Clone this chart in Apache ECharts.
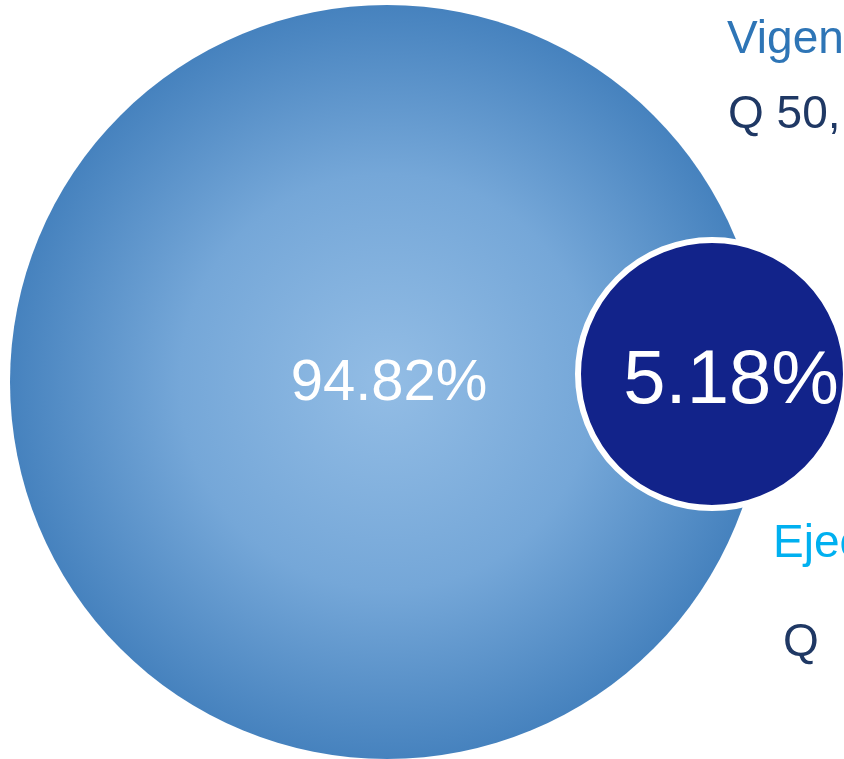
<!DOCTYPE html>
<html>
<head>
<meta charset="utf-8">
<script src="https://cdn.jsdelivr.net/npm/echarts@6/dist/echarts.min.js"></script>
<style>
  html, body { margin: 0; padding: 0; background: #fff; }
  #chart { width: 844px; height: 759px; }
</style>
</head>
<body>
<div id="chart"></div>
<script>
const names = ['Vigente', 'Ejecutado'];
const shares = [94.82, 5.18];
const amounts = ['Q 50,', 'Q'];

// layout in pixel units of the hidden axes
const centers = [[387, 382], [712, 374]];
const sizes = [754, 268];

const chart = echarts.init(document.getElementById('chart'));

const font = '"Liberation Sans", Arial, sans-serif';

chart.setOption({
    animation: false,
    grid: { left: 0, right: 0, top: 0, bottom: 0 },
    xAxis: { type: 'value', min: 0, max: 844, show: false },
    yAxis: { type: 'value', min: 0, max: 759, inverse: true, show: false },
    series: [
        {
            type: 'scatter',
            symbol: 'circle',
            symbolSize: sizes[0],
            data: [[centers[0][0], centers[0][1], shares[0]]],
            itemStyle: {
                opacity: 1,
                color: {
                    type: 'radial',
                    x: 0.5,
                    y: 0.5,
                    r: 0.5,
                    colorStops: [
                        { offset: 0, color: '#93bde5' },
                        { offset: 0.55, color: '#75a7d8' },
                        { offset: 1, color: '#4682be' },
                    ],
                },
            },
            label: {
                show: true,
                position: 'inside',
                offset: [2, 2],
                formatter: (p) => `${p.value[2].toFixed(2)}%`,
                color: '#fff',
                fontSize: 58,
                fontFamily: font,
            },
            z: 1,
        },
        {
            type: 'scatter',
            symbol: 'circle',
            symbolSize: sizes[1],
            data: [[centers[1][0], centers[1][1], shares[1]]],
            itemStyle: {
                opacity: 1,
                color: '#12238a',
                borderColor: '#fff',
                borderWidth: 6,
            },
            label: {
                show: true,
                position: 'inside',
                offset: [19, 8],
                formatter: (p) => `${p.value[2].toFixed(2)}%`,
                color: '#fff',
                fontSize: 76,
                fontFamily: font,
            },
            z: 2,
        },
    ],
    graphic: [
        {
            type: 'text', left: 727, top: 17,
            style: { text: names[0], fill: '#2e75b6', fontSize: 46, fontFamily: font },
        },
        {
            type: 'text', left: 728, top: 92,
            style: { text: amounts[0], fill: '#1f3864', fontSize: 46, fontFamily: font },
        },
        {
            type: 'text', left: 773, top: 521,
            style: { text: names[1], fill: '#00b0f0', fontSize: 46, fontFamily: font },
        },
        {
            type: 'text', left: 783, top: 620,
            style: { text: amounts[1], fill: '#1f3864', fontSize: 46, fontFamily: font },
        },
    ],
});
</script>
</body>
</html>
